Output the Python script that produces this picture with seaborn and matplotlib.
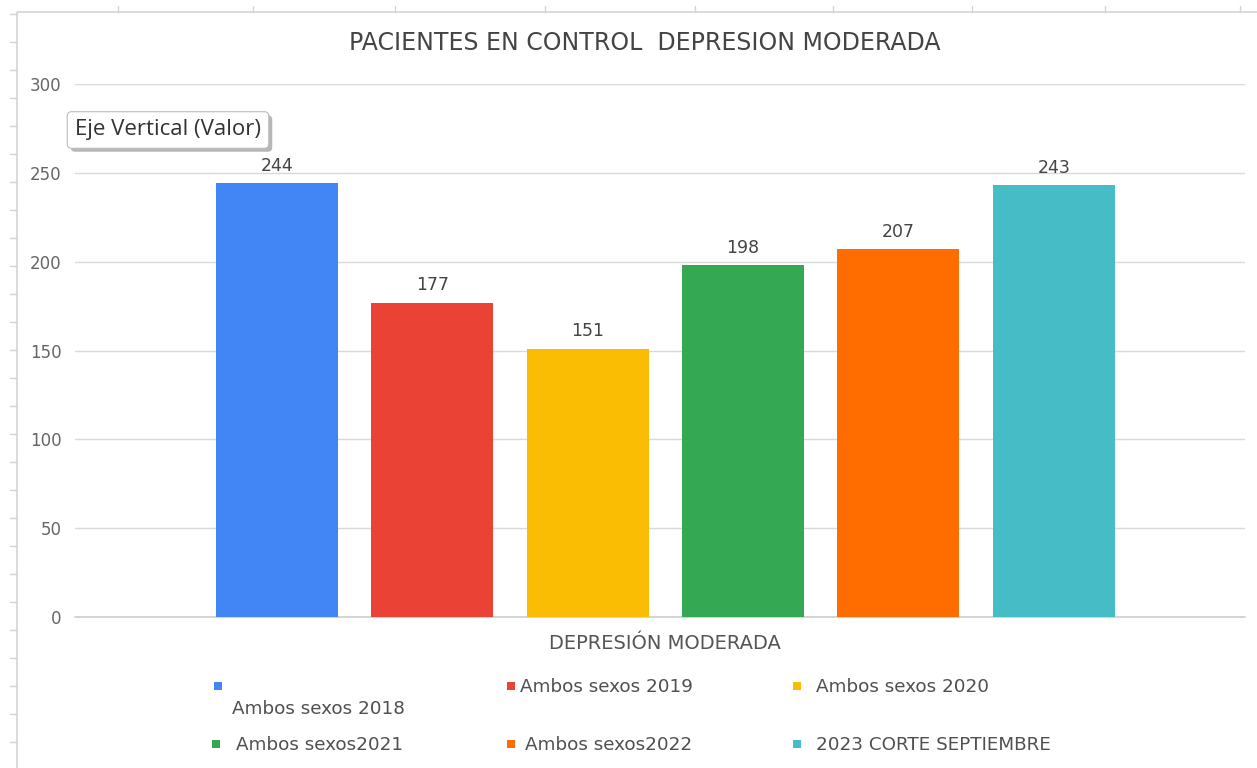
import matplotlib
matplotlib.use("Agg")
import matplotlib.pyplot as plt
import matplotlib.patheffects as pe
from matplotlib.lines import Line2D
from matplotlib.patches import Rectangle
import seaborn as sns
import pandas as pd

# ---- data ----
categoria = "DEPRESIÓN MODERADA"
series = ["Ambos sexos 2018", "Ambos sexos 2019", "Ambos sexos 2020",
          "Ambos sexos2021", "Ambos sexos2022", "2023 CORTE SEPTIEMBRE"]
valores = [244, 177, 151, 198, 207, 243]
colores = ["#4285F4", "#EA4335", "#FBBC04", "#34A853", "#FF6D01", "#46BDC6"]
y_ticks = [0, 50, 100, 150, 200, 250, 300]
titulo = "PACIENTES EN CONTROL  DEPRESION MODERADA"
tooltip = "Eje Vertical (Valor)"

df = pd.DataFrame({"categoria": [categoria] * len(series),
                   "serie": series, "valor": valores})

sns.set_theme(style="white")
plt.rcParams["font.family"] = ["DejaVu Sans"]

W, H = 1257, 768
fig = plt.figure(figsize=(W / 100, H / 100), dpi=100)
ax = fig.add_axes([75 / W, 1 - 617 / H, (1245 - 75) / W, (617 - 84) / H])

sns.barplot(data=df, x="categoria", y="valor", hue="serie",
            palette=colores, width=0.8, gap=0.215, legend=False,
            saturation=1, ax=ax, errorbar=None, linewidth=0)

for cont in ax.containers:
    ax.bar_label(cont, padding=6, fontsize=12.5, color="#444444")

ax.set_ylim(0, 300)
ax.set_xlim(-0.5065, 0.4975)
ax.set_yticks(y_ticks)
ax.yaxis.grid(True, color="#d9d9d9", linewidth=1)
ax.axhline(0, color="#cccccc", linewidth=1.2, clip_on=False, zorder=0.5)
ax.set_axisbelow(True)
for s in ax.spines.values():
    s.set_visible(False)
ax.set_xlabel("")
ax.set_ylabel("")
ax.tick_params(axis="y", length=0, pad=9.5, labelsize=12, labelcolor="#666666")
ax.tick_params(axis="x", length=0, pad=12, labelsize=14, labelcolor="#555555")

# title
fig.text(645 / W, 1 - 43 / H, titulo, ha="center", va="center",
         fontsize=17, color="#444444")

# manual legend
leg_pos = [(218, 686, 232, 709), (511, 686, 520, 687), (797, 686, 816, 687),
           (216, 744, 236, 745), (511, 744, 525, 745), (797, 744, 816, 745)]
for (mx, my, tx, ty), lab, col in zip(leg_pos, series, colores):
    fig.patches.append(Rectangle((mx / W - 4 / W, 1 - my / H - 4 / H),
                                 8 / W, 8 / H, transform=fig.transFigure,
                                 facecolor=col, edgecolor="none"))
    fig.text(tx / W, 1 - ty / H, lab, ha="left", va="center",
             fontsize=13.2, color="#505050")

# tooltip
t = fig.text(75 / W, 1 - 130 / H, tooltip, ha="left", va="center",
             fontsize=16, color="#333333", family=["Open Sans", "DejaVu Sans"],
             bbox=dict(boxstyle="round,pad=0.35,rounding_size=0.2",
                       facecolor="white", edgecolor="#bbbbbb", linewidth=0.8))
t.get_bbox_patch().set_path_effects([
    pe.SimplePatchShadow(offset=(2.5, -2.5), shadow_rgbFace="#888888", alpha=0.6),
    pe.Normal()])

# window frame decoration
fig.add_artist(Line2D([18 / W, 1], [1 - 12 / H, 1 - 12 / H],
                      transform=fig.transFigure, color="#d4d4d4", lw=1.2))
fig.add_artist(Line2D([17 / W, 17 / W], [0, 1 - 12 / H],
                      transform=fig.transFigure, color="#d4d4d4", lw=1.2))
for yy in range(14, H, 28):
    fig.add_artist(Line2D([10 / W, 17 / W], [1 - yy / H, 1 - yy / H],
                          transform=fig.transFigure, color="#d4d4d4", lw=1))
for xx in [118, 253, 395, 545, 695, 833, 972, 1105, 1240]:
    fig.add_artist(Line2D([xx / W, xx / W], [1 - 6 / H, 1 - 12 / H],
                          transform=fig.transFigure, color="#d4d4d4", lw=1))

fig.savefig("out.png", dpi=100, facecolor="white")
